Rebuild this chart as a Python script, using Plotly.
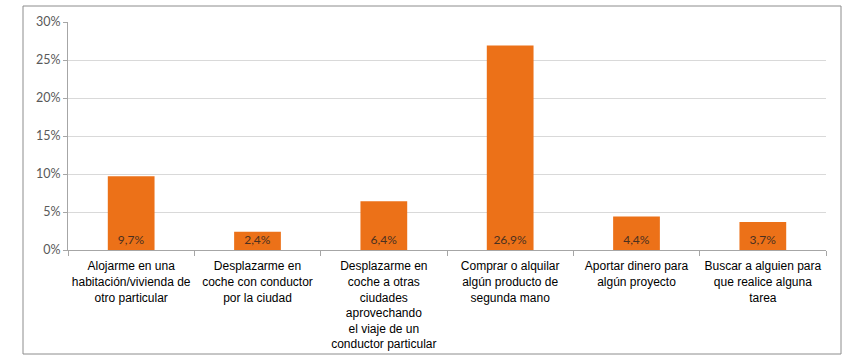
import plotly.graph_objects as go

categories = [
    "Alojarme en una<br>habitación/vivienda de<br>otro particular",
    "Desplazarme en<br>coche con conductor<br>por la ciudad",
    "Desplazarme en<br>coche a otras<br>ciudades<br>aprovechando<br>el viaje de un<br>conductor particular",
    "Comprar o alquilar<br>algún producto de<br>segunda mano",
    "Aportar dinero para<br>algún proyecto",
    "Buscar a alguien para<br>que realice alguna<br>tarea",
]
values = [9.7, 2.4, 6.4, 26.9, 4.4, 3.7]
y_ticks = [0, 5, 10, 15, 20, 25, 30]
y_tick_labels = ["0%", "5%", "10%", "15%", "20%", "25%", "30%"]

W, H = 850, 361
L, R, T, B = 68, 24, 22, 111
pw, ph = W - L - R, H - T - B

fig = go.Figure(go.Bar(
    x=categories, y=values,
    marker=dict(color="#EC7118", line=dict(width=0)),
    texttemplate="%{y:.1f}%",
    textposition="inside",
    insidetextanchor="start",
    textangle=0,
    textfont=dict(family="Lato, sans-serif", size=12, color="#4A3020"),
    cliponaxis=False,
))

fig.update_layout(
    width=W, height=H,
    margin=dict(l=L, r=R, t=T, b=B, autoexpand=False),
    paper_bgcolor="white", plot_bgcolor="white",
    separators=",.",
    bargap=0.63,
    showlegend=False,
    uniformtext=dict(minsize=12, mode="show"),
    xaxis=dict(
        tickfont=dict(family="Liberation Sans, Arial, sans-serif", size=12, color="#000000"),
        tickangle=0, automargin=False, ticklabelstandoff=5,
        showline=True, linecolor="#A6A6A6", linewidth=1,
        ticks="outside", ticklen=5, tickcolor="#A6A6A6",
        tickson="boundaries", showgrid=False,
    ),
    yaxis=dict(
        range=[0, 30], tickmode="array", tickvals=y_ticks, ticktext=y_tick_labels,
        automargin=False,
        tickfont=dict(family="Lato, sans-serif", size=12.5, color="#595959"),
        showline=True, linecolor="#A6A6A6", linewidth=1,
        ticks="outside", ticklen=4, tickcolor="#A6A6A6",
        showgrid=True, gridcolor="#D9D9D9", gridwidth=1,
        zeroline=False,
    ),
    shapes=[dict(
        type="rect", xref="paper", yref="paper",
        x0=(23 - L) / pw, x1=(841 - L) / pw,
        y0=(H - B - 354) / ph, y1=(H - B - 6) / ph,
        line=dict(color="#8C8C8C", width=1), fillcolor="rgba(0,0,0,0)",
        layer="below",
    )],
)

fig.write_html(
    "out.html",
    config={"displayModeBar": False},
    post_script="document.body.style.margin='0';document.body.style.overflow='hidden';",
)
